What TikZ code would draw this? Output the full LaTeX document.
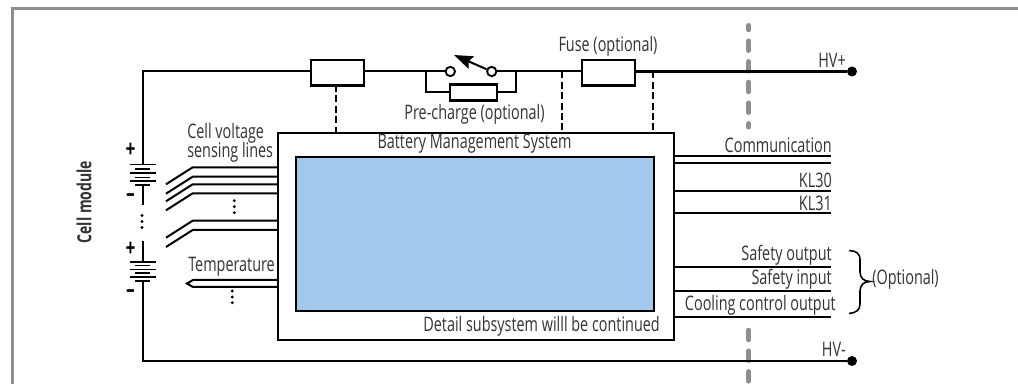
\documentclass[tikz,border=0pt]{standalone}
\usepackage{fontspec}
\setmainfont[FakeStretch=0.72]{Open Sans}
\usetikzlibrary{arrows.meta}
\definecolor{framegray}{HTML}{8C8E91}
\definecolor{bluefill}{HTML}{A2C8EC}
\definecolor{inkgray}{HTML}{333333}
\tikzset{
 x=0.75pt,y=-0.75pt,
 wire/.style={draw=black,line width=1.5pt},
 dashwire/.style={draw=black,line width=1.5pt,dash pattern=on 5.2pt off 2.6pt},
 lbl/.style={text=inkgray,font=\fontsize{15}{16}\selectfont,inner sep=0pt},
 sign/.style={font=\fontsize{18}{18}\selectfont\bfseries,inner sep=0pt},
 boxx/.style={draw=black,fill=white,line width=1.7pt,inner sep=0pt,anchor=north west},
 gate/.style={draw=framegray,line width=3.8pt,line cap=round,dash pattern=on 7.1pt off 8.4pt},
 term/.style={circle,draw=black,fill=white,line width=1.4pt,minimum size=7pt,inner sep=0pt},
 dott/.style={circle,fill=black,minimum size=7.5pt,inner sep=0pt},
}
\begin{document}
\begin{tikzpicture}
\useasboundingbox (0,0) rectangle (1018,384);
\fill[white] (0,0) rectangle (1018,384);
\draw[draw=framegray,line width=2.2pt] (12.5,384) -- (12.5,8.5) -- (1018,8.5);
% gate lines
\coordinate (g1) at (748.7,25.5); \coordinate (g2) at (748.7,127);
\coordinate (g3) at (748.7,330.3); \coordinate (g4) at (748.7,386);
\draw[gate,dash phase=3.9pt] (g1) -- (g2);
\draw[gate] (g3) -- (g4);
% nodes
\coordinate (tl) at (142.5,71.5);
\coordinate (hp) at (852,71.5);
\coordinate (bl) at (142.5,361);
\coordinate (hm) at (852,361);
\node[boxx,minimum width=39.75pt,minimum height=19.1pt] (r1) at (310,59) {};
\node[boxx,minimum width=39.75pt,minimum height=19.1pt] (fuse) at (581,59) {};
\node[boxx,minimum width=35pt,minimum height=12pt] (pre) at (449,83.3) {};
\node[boxx,line width=1.5pt,minimum width=297pt,minimum height=155pt] (bms) at (277,132.5) {};
\node[boxx,fill=bluefill,minimum width=268.5pt,minimum height=115.5pt] (blue) at (295,156) {};
\node[term] (s1) at (450.3,71.5) {};
\node[term] (s2) at (491.7,71.5) {};
\node[dott] (dp) at (hp) {};
\node[dott] (dm) at (hm) {};
% main wires
\coordinate (bt1) at (142.5,165);
\coordinate (bb2) at (142.5,282);
\draw[wire] (bt1) -- (tl) -- (r1.west |- tl);
\draw[wire] (r1.east |- tl) -- (s1);
\draw[wire] (s2) -- (fuse.west |- tl);
\draw[wire,line width=1.7pt] (fuse.east |- tl) -- (dp);
\draw[wire] (bb2) -- (bl) -- (dm);
\coordinate (pl) at (426,71.5); \coordinate (pr) at (516,71.5);
\draw[wire] (pl) -- (pl |- pre.west) -- (pre.west);
\draw[wire] (pr) -- (pr |- pre.east) -- (pre.east);
\coordinate (tip) at (454,55);
\draw[draw=black,line width=1.5pt,-{Stealth[length=14pt,width=10pt,inset=2pt]}] (s2) -- (tip);
% dashed
\draw[dashwire] (335.7,85) -- (335.7,132.5);
\draw[dashwire] (562.3,71.5) -- (562.3,132.5);
\draw[dashwire] (652.7,71.5) -- (652.7,132.5);
% right wires
\foreach \y in {155.7,162.7,190.7,213,267,291,317}
  \draw[wire] (673,\y) -- (830.7,\y);
% batteries
\foreach \yy/\hw in {164.5/13,169/7.5,173/13,177.5/7.5,181.2/13,185/7.5,
                     261.7/13,265.5/7.5,269.5/13,273.3/7.5,277.3/13,281.3/7.5}
  \draw[draw=black,line width=1.3pt] (142.5-\hw,\yy) -- (142.5+\hw,\yy);
\draw[wire] (142.5,185) -- (142.5,205);
\draw[wire] (142.5,241.5) -- (142.5,261.7);
\foreach \y in {215.5,221.5,227.5} \fill[black] (142,\y) circle (1.2pt);
\foreach \y in {200.7,206.7,212.7} \fill[black] (234.3,\y) circle (1.2pt);
\foreach \y in {291,297,302.7} \fill[black] (232.3,\y) circle (1.2pt);
% sense lines
\foreach \y in {167.3,176.7,184.3,193.3,220.7,230}
  \draw[wire] (277,\y) -- (192.7,\y) -- (166,\y+17);
\draw[wire] (277,280) -- (193,280) -- (187,283.5) -- (193,287) -- (277,287);
% signs
\node[sign] (p1) at (130.5,150) {+};
\node[sign] (m1) at (130.5,198) {–};
\node[sign] (p2) at (130.5,249) {+};
\node[sign] (m2) at (130.5,294) {–};
% brace
\draw[black,line width=1.2pt] (849,250.5) .. controls (856,251) and (860,253) .. (860,260) -- (860,272) .. controls (860,278) and (864,281.5) .. (870,281.5) .. controls (864,281.5) and (860,285) .. (860,291) -- (860,304) .. controls (860,310) and (856,313) .. (849,313.5);
% labels
\node[rotate=90,font=\fontsize{14.6}{16}\selectfont\bfseries,text=inkgray,inner sep=0pt] (cm) at (84,202) {Cell module};
\node[lbl,anchor=west] (t1) at (187,133) {Cell voltage};
\node[lbl,anchor=west] (t2) at (187,152) {sensing lines};
\node[lbl,anchor=west] (t3) at (188,266.5) {Temperature};
\node[lbl] (t4) at (474.5,114.5) {Pre-charge (optional)};
\node[lbl] (t5) at (608,46) {Fuse (optional)};
\node[lbl] (t6) at (474.5,143.5) {Battery Management System};
\node[lbl,anchor=east] (t7) at (660,326) {Detail subsystem willl be continued};
\node[lbl,anchor=east] (t8) at (846,60) {HV+};
\node[lbl,anchor=east] (t9) at (846,349.5) {HV-};
\node[lbl,anchor=east] (t10) at (832,145.5) {Communication};
\node[lbl,anchor=east] (t11) at (832,180.5) {KL30};
\node[lbl,anchor=east] (t12) at (832,203) {KL31};
\node[lbl,anchor=east] (t13) at (832,255) {Safety output};
\node[lbl,anchor=east] (t14) at (832,279) {Safety input};
\node[lbl,anchor=east] (t15) at (836,305) {Cooling control output};
\node[lbl,anchor=west] (t16) at (872,279.5) {(Optional)};
\end{tikzpicture}
\end{document}
